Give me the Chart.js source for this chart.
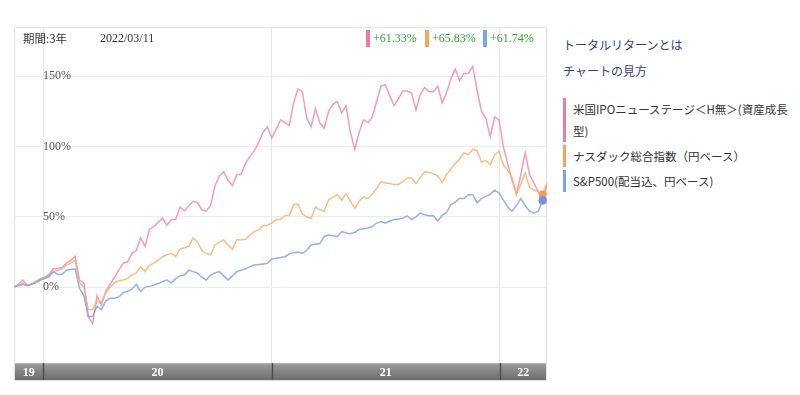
<!DOCTYPE html>
<html>
<head>
<meta charset="utf-8">
<script src="https://cdn.jsdelivr.net/npm/chart.js@4/dist/chart.umd.min.js"></script>
<style>
  body { margin: 0; background: #fff; }
  #wrap { position: relative; width: 800px; height: 395px; overflow: hidden; }
  #c { position: absolute; left: 0; top: 0; }
  .hd { position: absolute; top: 31px; font: 12px "Liberation Serif", serif; color: #333; white-space: nowrap; }
  .hd.jp { font-family: "Noto Sans CJK JP", sans-serif; font-size: 11.5px; top: 30px; }
  .ret { position: absolute; top: 30px; height: 17px; border-left: 4px solid; padding-left: 3px;
         font: 12px/17px "Liberation Serif", serif; color: #3a9a3a; white-space: nowrap; }
  #side { position: absolute; left: 563px; top: 35px; width: 232px; font-family: "Noto Sans CJK JP", sans-serif; }
  .lnk { font-size: 12px; line-height: 20px; color: #353f7c; margin-bottom: 6px; }
  .lg { font-size: 11.5px; line-height: 22px; color: #333; border-left: 3px solid; padding-left: 7px; margin-bottom: 3px; }
</style>
</head>
<body>
<div id="wrap">
  <canvas id="c" width="560" height="395"></canvas>
  <div class="hd jp" style="left:23px">期間:3年</div>
  <div class="hd" style="left:100px">2022/03/11</div>
  <div class="ret" style="left:366px;border-color:#f07aa0">+61.33%</div>
  <div class="ret" style="left:425px;border-color:#f8a55c">+65.83%</div>
  <div class="ret" style="left:483px;border-color:#7fa3ea">+61.74%</div>
  <div id="side">
    <div class="lnk">トータルリターンとは</div>
    <div class="lnk" style="margin-bottom:17px">チャートの見方</div>
    <div class="lg" style="border-color:#f07aa0">米国IPOニューステージ＜H無＞(資産成長型)</div>
    <div class="lg" style="border-color:#f8a55c">ナスダック総合指数（円ベース）</div>
    <div class="lg" style="border-color:#7fa3ea">S&amp;P500(配当込、円ベース)</div>
  </div>
</div>
<script>
// weekly points, first one on 2019/11/15
const startDate = '2019-11-15'
const yearStarts = ['2020-01-01', '2021-01-01', '2022-01-01']
const yearLabels = ['19', '20', '21', '22']
const yTicks = [0, 50, 100, 150]
const markIndex = 121 // 2022/03/11

const ipoFund = [0, 2, 5, 1.5, 2, 4, 6, 7, 9, 13, 13, 14, 17, 19, 22, 5, 3, -21, -26, -6,
  -13, -3, 2, 7, 12, 17, 18, 24, 26, 35, 29, 41, 43, 46, 49, 44, 48, 48, 57, 54,
  58, 61, 60, 55, 54, 58, 72, 79, 82, 76, 72, 80, 80, 88, 93, 97, 103, 110, 114, 106,
  112, 119, 117, 115, 131, 141, 139, 120, 114, 127, 117, 113, 125, 130, 132, 124, 129, 110, 98, 110,
  119, 117, 121, 132, 143, 144, 136, 129, 134, 139.5, 139.5, 138, 126, 137, 142, 139, 139, 143, 131, 138,
  148, 155, 147, 152, 152, 157, 140, 125, 120, 107, 121, 119, 100, 88, 76, 66, 80, 95.5, 80, 74,
  68, 61.33, 74]
const nasdaq = [0, 1, 3, 1, 2, 4, 5, 6, 7, 11, 12, 13, 15.7, 17, 19, 3, 0, -16, -16, -10,
  -11, -4, 0, 3, 4.5, 5, 6, 8.6, 10, 14.5, 11, 15.5, 17, 19, 21.6, 23, 24, 21.6, 27, 28,
  29, 35, 32, 26, 24, 23, 30, 32, 33.6, 30, 27, 33.6, 33.6, 34, 37, 39.5, 40.7, 43.6, 44, 45.5,
  48, 48, 51, 51, 58.6, 59, 52, 50, 49, 57, 55, 54, 62, 64, 65.7, 62, 66.4, 61, 56, 61,
  64, 63, 66, 70, 75, 74, 73.6, 73, 73, 75, 77.6, 77.6, 73.6, 78, 82, 81.5, 80.7, 79, 74.5, 80,
  84, 88, 91, 95.5, 94, 98, 97, 89, 90, 87, 94, 96.6, 87, 83, 78, 66, 73, 81, 71, 69,
  68, 65.83, 74]
const sp500 = [0, 1, 2, 1, 2, 3, 5, 6, 8, 11, 9, 9, 12, 12.5, 13, -1, -6, -21, -21, -13.6,
  -16, -10, -8, -8, -7, -4, -3, -1.5, 2, -3, 0, 0.5, 1.4, 2.5, 4, 5, 3, 6, 8, 8.6,
  12, 11, 10, 7, 5, 8.6, 10, 11, 8, 5, 8, 11, 12, 13, 14.5, 15.7, 16, 16.5, 17, 20,
  20.5, 21, 21.6, 23.5, 24.5, 25, 24, 26, 30, 30.5, 31, 36, 37, 36.5, 36, 39.5, 38.5, 38, 39, 41,
  41.5, 42, 43, 45.5, 46.6, 45.5, 47, 48, 48.5, 49, 50.7, 48, 50, 52.6, 51.5, 50.7, 50.7, 47, 51, 53,
  58.6, 60.5, 63, 63, 65.7, 65.7, 60, 63, 64.5, 66, 69, 67, 62, 57, 54, 58, 63, 58, 54, 52.6,
  54, 61.74, 63]

const DAY = 86400000
const t0 = Date.parse(startDate)
const dayOf = (s) => Math.round((Date.parse(s) - t0) / DAY)
const lastDay = (ipoFund.length - 1) * 7
const bounds = [0, ...yearStarts.map(dayOf), lastDay]
const centres = yearLabels.map((l, i) => (bounds[i] + bounds[i + 1]) / 2)

const toPoints = (arr) => arr.map((v, i) => ({x: i * 7, y: v}))

const series = (label, arr, color, dot, order) => ({
  label,
  data: toPoints(arr),
  borderColor: color,
  borderWidth: 1.5,
  tension: 0,
  order,
  pointRadius: (ctx) => ctx.dataIndex === markIndex ? 4 : 0,
  pointBackgroundColor: dot,
  pointBorderWidth: 0
})

const noPad = (s) => {
  s.paddingTop = 0
  s.paddingBottom = 0
  s.paddingLeft = 0
  s.paddingRight = 0
}

const frame = {
  id: 'frame',
  beforeDraw(chart) {
    const {ctx, chartArea: a} = chart
    const xs = chart.scales.x
    ctx.save()
    const g = ctx.createLinearGradient(0, xs.top, 0, xs.bottom)
    g.addColorStop(0, '#b4b4b4')
    g.addColorStop(0.15, '#959595')
    g.addColorStop(1, '#6c6c6c')
    ctx.fillStyle = g
    ctx.fillRect(a.left, xs.top, a.right - a.left, xs.bottom - xs.top)
    ctx.strokeStyle = '#4e4e4e'
    ctx.lineWidth = 1.5
    yearStarts.forEach((s) => {
      const px = Math.round(xs.getPixelForValue(dayOf(s))) + 0.5
      ctx.beginPath()
      ctx.moveTo(px, xs.top)
      ctx.lineTo(px, xs.bottom)
      ctx.stroke()
    })
    ctx.strokeStyle = '#e2e2e2'
    ctx.lineWidth = 1
    ctx.strokeRect(a.left + 0.5, a.top + 0.5, a.right - a.left - 1, xs.bottom - a.top)
    ctx.restore()
  }
}

new Chart('c', {
  type: 'line',
  data: {
    datasets: [
      series('米国IPOニューステージ＜H無＞(資産成長型)', ipoFund, 'rgba(243,138,174,0.85)', '#f07aa0', 2),
      series('ナスダック総合指数（円ベース）', nasdaq, 'rgba(250,176,110,0.85)', '#f89b4e', 1),
      series('S&P500(配当込、円ベース)', sp500, 'rgba(128,162,236,0.85)', '#6b96e8', 0)
    ]
  },
  options: {
    responsive: false,
    animation: false,
    layout: {padding: {left: 14, top: 27, right: 13, bottom: 15}, autoPadding: false},
    plugins: {legend: {display: false}, tooltip: {enabled: false}},
    scales: {
      x: {
        type: 'linear',
        min: 0,
        max: lastDay,
        afterFit: (s) => { s.height = 17; noPad(s) },
        afterBuildTicks: (s) => {
          s.ticks = [...bounds.slice(1, -1), ...centres].sort((a, b) => a - b).map((v) => ({value: v}))
        },
        border: {display: false},
        grid: {
          drawTicks: false,
          color: (ctx) => centres.includes(ctx.tick && ctx.tick.value) ? 'rgba(0,0,0,0)' : '#e6e6e6'
        },
        ticks: {
          autoSkip: false,
          maxRotation: 0,
          padding: 3,
          color: '#fff',
          font: {family: 'Liberation Serif', size: 12, weight: 'bold'},
          callback: (v) => {
            const k = centres.indexOf(v)
            return k < 0 ? '' : yearLabels[k]
          }
        }
      },
      y: {
        min: -54,
        max: 185,
        afterFit: (s) => { s.width = 0; noPad(s) },
        afterBuildTicks: (s) => { s.ticks = yTicks.map((v) => ({value: v})) },
        border: {display: false},
        grid: {drawTicks: false, color: '#ececec'},
        ticks: {
          mirror: true,
          padding: 29,
          color: '#555',
          font: {family: 'Liberation Serif', size: 12},
          callback: (v) => v + '%'
        }
      }
    }
  },
  plugins: [frame]
})
</script>
</body>
</html>
